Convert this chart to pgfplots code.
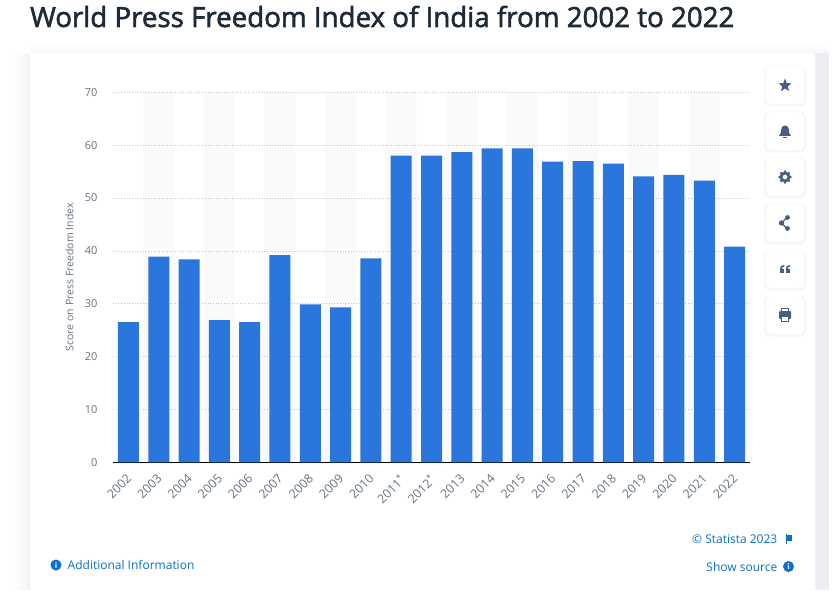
\documentclass[border=0pt]{standalone}
\usepackage{fontspec}
\setmainfont{Open Sans}
\usepackage{pgfplots}
\pgfplotsset{compat=1.18}
\usetikzlibrary{shapes.geometric}

\definecolor{barblue}{HTML}{2A76DD}
\definecolor{gridgrey}{HTML}{C8C8C8}
\definecolor{ticktext}{HTML}{667383}
\definecolor{titletext}{HTML}{1F2A37}
\definecolor{linkblue}{HTML}{0A6FD0}
\definecolor{pagebg}{HTML}{ECEEF3}
\definecolor{icon}{HTML}{465E80}

% one point is one pixel of the reference, y counted from the bottom
\begin{document}
\begin{tikzpicture}[x=1pt,y=1pt]
\useasboundingbox (0,0) rectangle (837,590);
\fill[white] (0,0) rectangle (837,590);
% soft shadow round the cards, in strips
\fill[pagebg] (815,0) rectangle (829,537);
\foreach \i in {0,1,...,21}{
  \pgfmathsetmacro{\mix}{\i*\i/441*80}
  \fill[pagebg!\mix!white] (8+\i,0) rectangle (9+\i,537);
}
\foreach \i in {0,1,...,14}{
  \pgfmathsetmacro{\mix}{\i*\i/196*40}
  \fill[pagebg!\mix!white] (30,551-\i) rectangle (837,552-\i);
}
\fill[white,rounded corners=5pt] (30,-10) rectangle (815,537);
\fill[white,rounded corners=5pt] (829,432) rectangle (850,600);
\fill[white,rounded corners=5pt] (829,-10) rectangle (850,417);

% no semibold cut installed: regular with a thin outline stroke
\node[anchor=base west,inner sep=0pt,text=titletext,font=\fontsize{27.7}{30}\selectfont] at (30,563) {\special{pdf:code 2 Tr 0.55 w}World Press Freedom Index of India from 2002 to 2022\special{pdf:code 0 Tr 1 w}};

\begin{axis}[
    at={(113pt,127.7pt)}, anchor=south west,
    scale only axis,
    width=637pt, height=370pt,
    xmin=-0.51, xmax=20.51,
    ymin=0, ymax=70,
    axis x line*=bottom,
    axis y line*=left,
    y axis line style={draw=none},
    x axis line style={black,line width=0.9pt},
    xtick={0,1,...,20},
    xticklabels={2002,2003,2004,2005,2006,2007,2008,2009,2010,2011\textsuperscript{*},2012\textsuperscript{*},2013,2014,2015,2016,2017,2018,2019,2020,2021,2022},
    ytick={0,10,20,30,40,50,60,70},
    major tick length=0pt,
    ymajorgrids=true,
    grid style={gridgrey,line width=0.7pt,dotted},
    tick label style={text=ticktext,font=\fontsize{11}{13}\selectfont},
    xticklabel style={font=\fontsize{12.3}{14}\selectfont,xshift=-2.6pt,yshift=-6.1pt,rotate=45,anchor=north east},
    yticklabel style={xshift=-12pt},
    /pgf/number format/assume math mode=true,
    ylabel={Score on Press Freedom Index},
    ylabel style={text=ticktext,font=\fontsize{10.5}{11}\selectfont,at={(axis description cs:0,0.5)},yshift=36pt},
    ybar, bar shift=0pt,
]
\addplot[fill=black,fill opacity=0.02,draw=none,bar width=31pt,forget plot] coordinates {
(1,70)(3,70)(5,70)(7,70)(9,70)(11,70)(13,70)(15,70)(17,70)(19,70)
};
\addplot[fill=barblue,draw=none,bar width=21pt] coordinates {
(0,26.5)(1,38.9)(2,38.4)(3,26.9)(4,26.5)(5,39.2)(6,29.9)(7,29.3)(8,38.6)(9,58)(10,58)
(11,58.7)(12,59.4)(13,59.4)(14,56.9)(15,57)(16,56.5)(17,54.1)(18,54.4)(19,53.3)(20,40.8)
};
\end{axis}

% footer links
\fill[linkblue] (56,25) circle (5.5);
\node[text=white,font=\fontsize{8}{8}\selectfont\bfseries] at (56,25) {i};
\node[anchor=base west,inner sep=0pt,text=linkblue,font=\fontsize{12}{14}\selectfont] at (67.5,21) {Additional Information};
\node[anchor=base east,inner sep=0pt,text=linkblue,font=\fontsize{12}{14}\selectfont] at (777.5,47) {© Statista 2023};
\fill[linkblue] (785.5,46.5) rectangle (786.5,56);
\fill[linkblue] (786.5,55.5) -- (792,55.5) -- (792,49) -- (786.5,49) -- cycle;
\node[anchor=base east,inner sep=0pt,text=linkblue,font=\fontsize{12}{14}\selectfont] at (777.5,19) {Show source};
\fill[linkblue] (788.5,23.5) circle (5.5);
\node[text=white,font=\fontsize{8}{8}\selectfont\bfseries] at (788.5,23.5) {i};

% side buttons
\foreach \yy in {66,112,158,204,250,296}{
  \fill[black!3,rounded corners=6pt] (764,590-\yy-40.5) rectangle (806,590-\yy+0.5);
  \fill[white,rounded corners=5pt] (766,590-\yy-38) rectangle (804,590-\yy);
}
\node[star,star points=5,star point ratio=2.4,fill=icon,inner sep=0pt,minimum size=14pt] at (785,504.5) {};
% bell
\fill[icon] (779,454) .. controls (781,456) and (781,458) .. (781,460) .. controls (781,466) and (789,466) .. (789,460) .. controls (789,458) and (789,456) .. (791,454) -- cycle;
\fill[icon] (783,452) rectangle (787,453);
% gear
\draw[icon,line width=2.8pt] (785,413) circle (4);
\foreach \a in {0,45,...,315}{\fill[icon] (785,413) ++(\a:5.6) circle (1.3);}
% share
\draw[icon,line width=1.2pt] (787.5,373) -- (781.5,367) -- (787.5,361);
\fill[icon] (787.5,372.5) circle (2.4) (781.5,367) circle (2.7) (787.5,361.5) circle (2.4);
% quotes
\foreach \dx in {0,5.8}{
  \fill[icon] (780+\dx,317) rectangle (784.4+\dx,321.5);
  \fill[icon] (780+\dx,321) .. controls (780+\dx,324) and (781.5+\dx,325) .. (784.4+\dx,325) -- (784.4+\dx,323.5) .. controls (783+\dx,323.5) and (782+\dx,323) .. (782+\dx,321) -- cycle;
}
% printer
\fill[icon,rounded corners=1pt] (779,271) rectangle (791,279);
\draw[icon,line width=1pt] (781.5,279) rectangle (788.5,282);
\fill[white,draw=icon,line width=0.8pt] (781.5,269) rectangle (788.5,274);
\end{tikzpicture}
\end{document}
